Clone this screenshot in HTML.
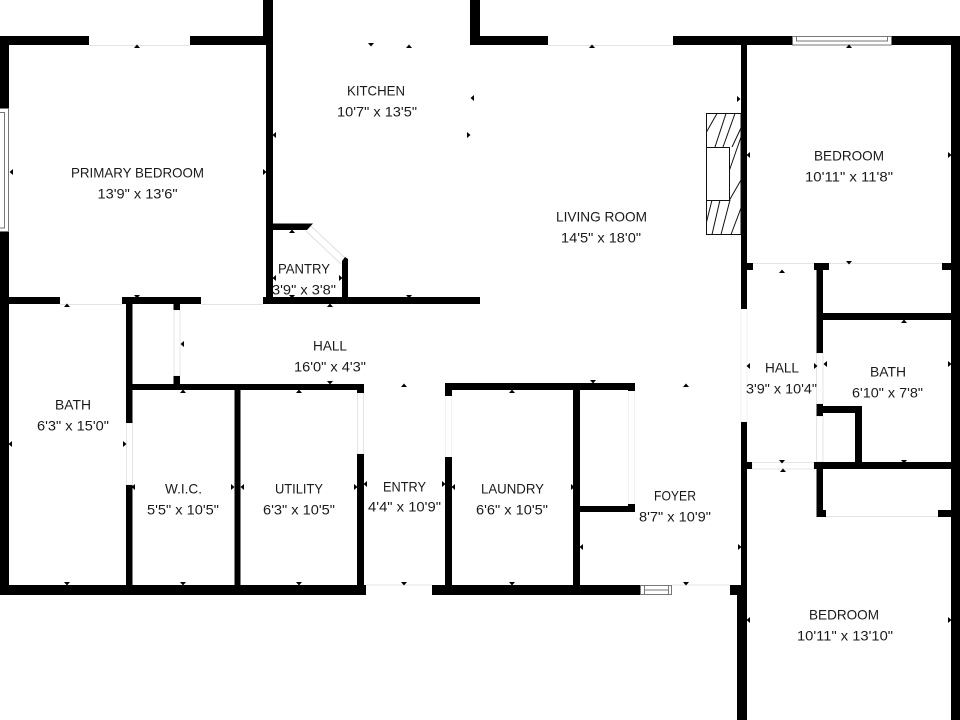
<!DOCTYPE html>
<html><head><meta charset="utf-8"><style>
html,body{margin:0;padding:0;background:#fff}
svg{display:block}
text{font-family:"Liberation Sans",sans-serif;font-size:14px;fill:#1a1a1a}
</style></head><body>
<svg width="960" height="720" viewBox="0 0 960 720" xmlns="http://www.w3.org/2000/svg">
<defs>
<path id="u" d="M-3 0H3L0-3.5Z"/>
<path id="d" d="M-3 0H3L0 3.5Z"/>
<path id="l" d="M0-3V3L-3.5 0Z"/>
<path id="r" d="M0-3V3L3.5 0Z"/>
</defs>
<rect width="960" height="720" fill="#fff"/>

<!-- light door / opening lines -->
<g fill="none" stroke="#e4e4e4" stroke-width="1">
<path d="M89 45.5H190M548 45.5H673M60 304.5H122M201 304.5H263M753 263.5H942M366 585H432M672 585H730M826 516.5H938"/>
<rect x="126.500" y="423" width="6" height="62"/>
<rect x="174" y="310" width="6" height="66"/>
<rect x="357.500" y="393" width="6" height="61"/>
<rect x="741" y="309" width="6" height="113" stroke="#f0f0f0"/>
<rect x="816.500" y="353" width="6.500" height="51"/>
<rect x="816.500" y="416" width="6.500" height="46"/>
<rect x="752" y="462.500" width="62" height="6.500"/>
<path d="M445.500 396V457M451.500 396V457M628.500 391V504M634.500 391V504" stroke="#f2f2f2"/>
<path d="M311 226L346 259M306 231L341 264" stroke="#e0e0e0"/>
</g>

<!-- walls -->
<g fill="#000">
<rect x="0" y="36" width="89" height="9"/>
<rect x="190" y="36" width="82" height="9"/>
<rect x="0" y="36" width="9" height="72"/>
<rect x="0" y="232" width="9" height="363"/>
<rect x="263" y="0" width="10" height="45"/>
<rect x="266" y="36" width="7" height="268"/>
<rect x="470" y="0" width="10" height="45"/>
<rect x="470" y="36" width="78" height="9"/>
<rect x="673" y="36" width="119" height="9"/>
<rect x="892" y="36" width="68" height="9"/>
<rect x="951" y="36" width="9" height="684"/>
<rect x="741" y="36" width="6" height="273"/>
<rect x="741" y="422" width="6" height="173"/>
<rect x="730" y="585" width="17" height="10"/>
<rect x="737" y="595" width="10" height="125"/>
<rect x="747" y="263" width="6" height="7"/>
<rect x="814" y="263" width="15" height="7"/>
<rect x="942" y="263" width="9" height="7"/>
<rect x="816.500" y="263" width="6.500" height="90"/>
<rect x="823" y="313" width="128" height="7"/>
<rect x="816.500" y="404" width="6.500" height="12"/>
<rect x="823" y="406" width="39" height="7"/>
<rect x="855" y="406" width="7" height="57"/>
<rect x="814" y="462" width="137" height="7"/>
<rect x="747" y="462" width="5" height="7"/>
<rect x="816.500" y="469" width="6.500" height="48"/>
<rect x="816.500" y="510" width="9.500" height="7"/>
<rect x="938" y="510" width="13" height="7"/>
<rect x="9" y="297" width="51" height="7"/>
<rect x="122" y="297" width="79" height="7"/>
<rect x="263" y="297" width="217" height="7"/>
<path d="M272 223.500H313L307 230H272Z"/>
<path d="M342 261L345 257L348 259V297H342Z"/>
<rect x="126" y="304" width="6.500" height="119"/>
<rect x="126" y="485" width="6.500" height="105"/>
<rect x="173.500" y="304" width="6.500" height="6"/>
<rect x="173.500" y="376" width="6.500" height="8"/>
<rect x="132" y="384" width="232" height="6"/>
<rect x="357" y="384" width="7" height="9"/>
<rect x="357" y="454" width="7" height="131"/>
<rect x="234.500" y="390" width="6" height="195"/>
<rect x="0" y="585" width="366" height="10"/>
<rect x="432" y="585" width="208" height="10"/>
<rect x="445" y="383" width="190" height="7"/>
<rect x="445" y="383" width="7" height="13"/>
<rect x="628" y="383" width="7" height="8"/>
<rect x="628" y="504" width="7" height="7"/>
<rect x="580" y="506" width="55" height="6"/>
<rect x="573" y="390" width="7" height="195"/>
<rect x="445" y="457" width="7" height="128"/>
</g>

<!-- windows -->
<g fill="#fff" stroke="#777" stroke-width="1">
<rect x="-2" y="108.500" width="10.500" height="123"/>
<rect x="-2" y="112.500" width="6.500" height="115.500"/>
<rect x="792.500" y="36.500" width="99" height="8.500"/>
<rect x="796.500" y="36.500" width="91" height="4.500"/>
<rect x="640.500" y="585.500" width="31" height="9"/>
<path d="M644.500 585.500V594.500M668.500 585.500V594.500M644.500 590H668.500"/>
</g>

<!-- fireplace -->
<g fill="none" stroke="#111" stroke-width="1">
<rect x="706.500" y="113.500" width="34.500" height="121"/>
<path d="M706.500 132L717 113.500M715 147L726 113.500M723 147L735 113.500M732 147L741 128M729.500 170L741 137M729.500 200L741 180"/>
<path d="M706.500 222L712 200M712 234.500L720 200M721 234.500L730 200M731 234.500L741 208"/>
<rect x="706.500" y="147.500" width="23" height="53" fill="#fff"/>
</g>

<!-- ticks -->
<g fill="#000">
<use href="#u" x="137" y="48"/><use href="#u" x="409" y="48"/><use href="#u" x="592" y="48"/><use href="#u" x="849" y="48"/>
<use href="#u" x="782" y="273"/><use href="#u" x="904" y="323"/><use href="#u" x="67" y="307"/><use href="#u" x="330" y="307"/>
<use href="#u" x="292" y="233"/><use href="#u" x="183" y="393"/><use href="#u" x="299" y="393"/><use href="#u" x="512" y="393"/>
<use href="#u" x="404" y="387"/><use href="#u" x="686" y="387"/><use href="#u" x="783" y="472"/>
<use href="#d" x="371" y="43"/><use href="#d" x="849" y="261"/><use href="#d" x="409" y="295"/><use href="#d" x="137" y="295"/>
<use href="#d" x="292" y="295"/><use href="#d" x="330" y="381"/><use href="#d" x="593" y="380"/><use href="#d" x="782" y="460"/>
<use href="#d" x="904" y="460"/><use href="#d" x="67" y="582"/><use href="#d" x="183" y="582"/><use href="#d" x="299" y="582"/>
<use href="#d" x="404" y="582"/><use href="#d" x="512" y="582"/><use href="#d" x="686" y="582"/>
<use href="#l" x="13" y="172"/><use href="#l" x="276" y="135"/><use href="#l" x="276" y="278"/><use href="#l" x="474" y="98"/>
<use href="#l" x="750" y="155"/><use href="#l" x="184" y="344"/><use href="#l" x="750" y="366"/><use href="#l" x="827" y="364"/>
<use href="#l" x="12" y="444"/><use href="#l" x="135" y="487"/><use href="#l" x="244" y="487"/><use href="#l" x="367" y="484"/>
<use href="#l" x="455" y="487"/><use href="#l" x="583" y="547"/><use href="#l" x="750" y="620"/>
<use href="#r" x="263" y="172"/><use href="#r" x="467" y="135"/><use href="#r" x="737" y="99"/><use href="#r" x="948" y="155"/>
<use href="#r" x="814" y="366"/><use href="#r" x="948" y="364"/><use href="#r" x="123" y="444"/><use href="#r" x="231" y="487"/>
<use href="#r" x="354" y="487"/><use href="#r" x="442" y="484"/><use href="#r" x="571" y="487"/><use href="#r" x="738" y="547"/>
<use href="#r" x="948" y="620"/><use href="#r" x="339" y="278"/>
</g>

<!-- labels -->
<g transform="translate(0,-0.6)">
<text x="71" y="178" textLength="133" lengthAdjust="spacingAndGlyphs">PRIMARY BEDROOM</text>
<text x="97.500" y="199" textLength="80" lengthAdjust="spacingAndGlyphs">13'9" x 13'6"</text>
<text x="347" y="96" textLength="58" lengthAdjust="spacingAndGlyphs">KITCHEN</text>
<text x="337" y="117" textLength="80" lengthAdjust="spacingAndGlyphs">10'7" x 13'5"</text>
<text x="278" y="274" textLength="52" lengthAdjust="spacingAndGlyphs">PANTRY</text>
<text x="272" y="295" textLength="64" lengthAdjust="spacingAndGlyphs">3'9" x 3'8"</text>
<text x="556" y="222" textLength="91" lengthAdjust="spacingAndGlyphs">LIVING ROOM</text>
<text x="561" y="243" textLength="80" lengthAdjust="spacingAndGlyphs">14'5" x 18'0"</text>
<text x="814" y="161" textLength="70" lengthAdjust="spacingAndGlyphs">BEDROOM</text>
<text x="805" y="182" textLength="88" lengthAdjust="spacingAndGlyphs">10'11" x 11'8"</text>
<text x="765" y="373" textLength="34" lengthAdjust="spacingAndGlyphs">HALL</text>
<text x="746" y="394" textLength="71" lengthAdjust="spacingAndGlyphs">3'9" x 10'4"</text>
<text x="870" y="377" textLength="36" lengthAdjust="spacingAndGlyphs">BATH</text>
<text x="852" y="398" textLength="71" lengthAdjust="spacingAndGlyphs">6'10" x 7'8"</text>
<text x="55" y="410" textLength="36" lengthAdjust="spacingAndGlyphs">BATH</text>
<text x="37" y="431" textLength="72" lengthAdjust="spacingAndGlyphs">6'3" x 15'0"</text>
<text x="165" y="494" textLength="37" lengthAdjust="spacingAndGlyphs">W.I.C.</text>
<text x="147" y="515" textLength="72" lengthAdjust="spacingAndGlyphs">5'5" x 10'5"</text>
<text x="275" y="494" textLength="48" lengthAdjust="spacingAndGlyphs">UTILITY</text>
<text x="263" y="515" textLength="72" lengthAdjust="spacingAndGlyphs">6'3" x 10'5"</text>
<text x="313" y="351" textLength="34" lengthAdjust="spacingAndGlyphs">HALL</text>
<text x="294" y="372" textLength="72" lengthAdjust="spacingAndGlyphs">16'0" x 4'3"</text>
<text x="383" y="492" textLength="43" lengthAdjust="spacingAndGlyphs">ENTRY</text>
<text x="368" y="512" textLength="73" lengthAdjust="spacingAndGlyphs">4'4" x 10'9"</text>
<text x="481" y="494" textLength="63" lengthAdjust="spacingAndGlyphs">LAUNDRY</text>
<text x="476" y="515" textLength="72" lengthAdjust="spacingAndGlyphs">6'6" x 10'5"</text>
<text x="654" y="501" textLength="42" lengthAdjust="spacingAndGlyphs">FOYER</text>
<text x="639" y="522" textLength="72" lengthAdjust="spacingAndGlyphs">8'7" x 10'9"</text>
<text x="809" y="620" textLength="70" lengthAdjust="spacingAndGlyphs">BEDROOM</text>
<text x="797" y="641" textLength="96" lengthAdjust="spacingAndGlyphs">10'11" x 13'10"</text>
</g>
</svg>
</body></html>
